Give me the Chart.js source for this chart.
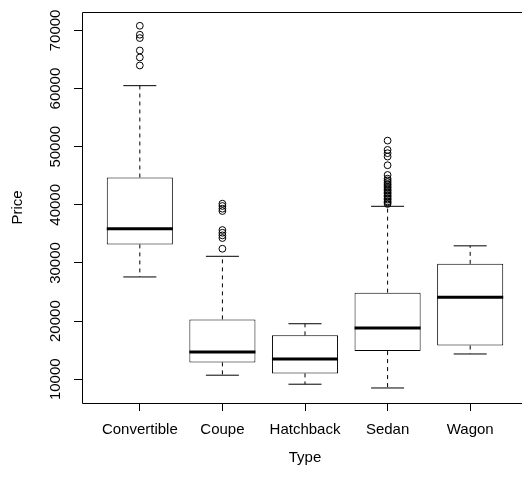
<!DOCTYPE html>
<html>
<head>
<meta charset="utf-8">
<script src="https://cdn.jsdelivr.net/npm/chart.js@4/dist/chart.umd.min.js"></script>
<style>
  html, body { margin: 0; padding: 0; background: #fff; overflow: hidden; }
  #wrap { width: 522px; height: 477px; overflow: hidden; position: relative; }
  #chart { display: block; }
</style>
</head>
<body>
<div id="wrap"><canvas id="chart" width="540" height="477"></canvas></div>
<script>
// 数据
const categories = ['Convertible', 'Coupe', 'Hatchback', 'Sedan', 'Wagon'];
const whiskerLow = [27600, 10700, 9150, 8500, 14350];
const q1 = [33200, 12900, 11000, 14850, 15800];
const median = [35900, 14700, 13500, 18800, 24100];
const q3 = [44700, 20300, 17550, 24900, 29850];
const whiskerHigh = [60500, 31150, 19550, 39750, 32950];
const outliers = [
    [70800, 69260, 68690, 66550, 65350, 63970],
    [40200, 39800, 39340, 38940, 35670, 35200, 34750, 34290, 32450],
    [],
    [51050, 49450, 48880, 48300, 46810, 45140, 44500, 44200, 43900, 43600, 43400, 43100,
     42900, 42600, 42400, 42100, 41900, 41600, 41400, 41100, 40900, 40600, 40400, 40150],
    []
];
const yTicks = [10000, 20000, 30000, 40000, 50000, 60000, 70000];

const FONT = "'Liberation Sans', Arial, sans-serif";

// 箱线图的中位线、须线和边框
const boxExtras = {
    id: 'boxExtras',
    afterDatasetsDraw(chart) {
        const { ctx, chartArea, scales: { x, y } } = chart;
        ctx.save();
        ctx.strokeStyle = '#000';
        categories.forEach((c, i) => {
            const cx = x.getPixelForValue(i);
            const capL = x.getPixelForValue(i - 0.2);
            const capR = x.getPixelForValue(i + 0.2);
            const boxL = x.getPixelForValue(i - 0.4);
            const boxR = x.getPixelForValue(i + 0.4);
            // 须线（虚线）
            ctx.lineWidth = 1;
            ctx.setLineDash([4, 4]);
            ctx.beginPath();
            ctx.moveTo(cx, y.getPixelForValue(q3[i]));
            ctx.lineTo(cx, y.getPixelForValue(whiskerHigh[i]));
            ctx.moveTo(cx, y.getPixelForValue(q1[i]));
            ctx.lineTo(cx, y.getPixelForValue(whiskerLow[i]));
            ctx.stroke();
            // 端点横线
            ctx.setLineDash([]);
            ctx.beginPath();
            ctx.moveTo(capL, y.getPixelForValue(whiskerHigh[i]));
            ctx.lineTo(capR, y.getPixelForValue(whiskerHigh[i]));
            ctx.moveTo(capL, y.getPixelForValue(whiskerLow[i]));
            ctx.lineTo(capR, y.getPixelForValue(whiskerLow[i]));
            ctx.stroke();
            // 中位数
            ctx.lineWidth = 3;
            ctx.beginPath();
            ctx.moveTo(boxL, y.getPixelForValue(median[i]));
            ctx.lineTo(boxR, y.getPixelForValue(median[i]));
            ctx.stroke();
        });
        // 外框
        const l = chartArea.left + 0.5, t = chartArea.top + 0.5;
        const r = chartArea.right + 0.5, b = chartArea.bottom + 0.5;
        ctx.lineWidth = 1;
        ctx.beginPath();
        ctx.moveTo(r, t);
        ctx.lineTo(l, t);
        ctx.lineTo(l, b);
        ctx.lineTo(r, b);
        ctx.lineTo(r, t);
        ctx.stroke();
        // y 轴刻度标签（竖排）
        ctx.fillStyle = '#000';
        ctx.font = '15px ' + FONT;
        ctx.textAlign = 'center';
        ctx.textBaseline = 'middle';
        yTicks.forEach(v => {
            ctx.save();
            ctx.translate(55.5, y.getPixelForValue(v));
            ctx.rotate(-Math.PI / 2);
            ctx.fillText(String(v), 0, 0);
            ctx.restore();
        });
        ctx.restore();
    }
};

new Chart(document.getElementById('chart'), {
    type: 'bar',
    data: {
        datasets: [{
            label: 'box',
            data: categories.map((c, i) => ({ x: i, y: [q1[i], q3[i]] })),
            backgroundColor: '#fff',
            borderColor: '#000',
            borderWidth: 1,
            borderSkipped: false,
            barPercentage: 0.8,
            categoryPercentage: 1
        }, {
            type: 'scatter',
            label: 'outliers',
            data: outliers.flatMap((arr, i) => arr.map(v => ({ x: i, y: v }))),
            pointStyle: 'circle',
            pointRadius: 3.4,
            backgroundColor: 'rgba(0,0,0,0)',
            borderColor: '#000',
            borderWidth: 1
        }]
    },
    options: {
        responsive: false,
        animation: false,
        layout: { padding: { top: 12, right: 12, left: 0, bottom: 0 } },
        plugins: { legend: { display: false }, tooltip: { enabled: false } },
        scales: {
            x: {
                type: 'linear',
                min: -0.7,
                max: 4.7,
                offset: false,
                afterBuildTicks: s => { s.ticks = categories.map((c, i) => ({ value: i })); },
                afterFit: s => { s.height = 74; },
                ticks: {
                    callback: v => categories[v] ?? '',
                    color: '#000',
                    font: { family: FONT, size: 15 },
                    padding: 10,
                    maxRotation: 0,
                    autoSkip: false
                },
                grid: { offset: false, drawOnChartArea: false, color: '#000', tickLength: 8 },
                border: { display: false },
                title: {
                    display: true,
                    text: 'Type',
                    color: '#000',
                    font: { family: FONT, size: 15 },
                    padding: { bottom: 10 }
                }
            },
            y: {
                min: 5917,
                max: 73170,
                afterBuildTicks: s => { s.ticks = yTicks.map(v => ({ value: v })); },
                afterFit: s => { s.width = 82; },
                ticks: { display: false },
                grid: { drawOnChartArea: false, color: '#000', tickLength: 8 },
                border: { display: false },
                title: {
                    display: true,
                    text: 'Price',
                    color: '#000',
                    font: { family: FONT, size: 15 },
                    padding: { top: 9 }
                }
            }
        }
    },
    plugins: [boxExtras]
});
</script>
</body>
</html>
